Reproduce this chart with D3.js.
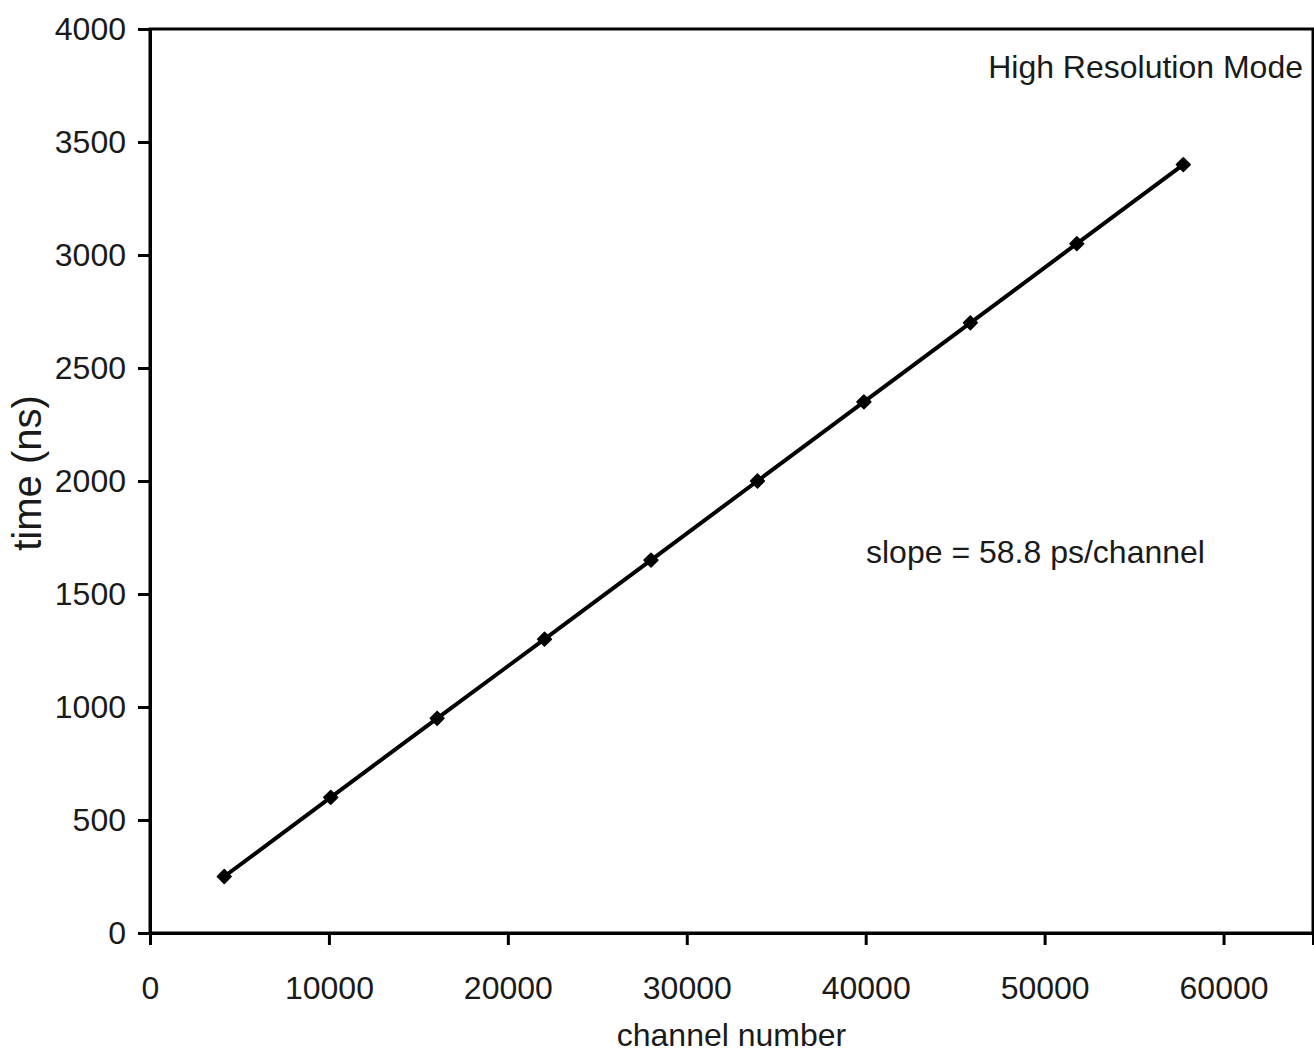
<!DOCTYPE html>
<html>
<head>
<meta charset="utf-8">
<script src="https://cdn.jsdelivr.net/npm/d3@7"></script>
<style>
  body { margin: 0; background: #fff; }
  text { font-family: "Liberation Sans", Arial, sans-serif; fill: #1a1a1a; }
</style>
</head>
<body>
<svg id="chart" width="1314" height="1055"></svg>
<script>
(function (d3) {
    'use strict';

    // values
    var channels = [4150, 10100, 16050, 22050, 28000, 33950, 39900, 45850, 51800, 57750];
    var times = [250, 600, 950, 1300, 1650, 2000, 2350, 2700, 3050, 3400];
    var xTicks = [0, 10000, 20000, 30000, 40000, 50000, 60000];
    var yTicks = [0, 500, 1000, 1500, 2000, 2500, 3000, 3500, 4000];

    var left = 150, top = 29, right = 1313, bottom = 933;

    var svg = d3.select('#chart');

    var x = d3.scaleLinear().domain([0, 65000]).range([left, right]);
    var y = d3.scaleLinear().domain([0, 4000]).range([bottom, top]);

    // frame
    svg.append('rect')
        .attr('x', left)
        .attr('y', top)
        .attr('width', right - left)
        .attr('height', bottom - top)
        .style('fill', 'none')
        .style('stroke', '#000')
        .style('stroke-width', 3);

    var xAxis = svg.append('g')
        .attr('transform', 'translate(0,' + bottom + ')')
        .call(d3.axisBottom(x).tickValues(xTicks).tickSize(12).tickPadding(31).tickFormat(d3.format('d')));

    var yAxis = svg.append('g')
        .attr('transform', 'translate(' + left + ',0)')
        .call(d3.axisLeft(y).tickValues(yTicks).tickSize(12).tickPadding(12).tickFormat(d3.format('d')));

    [xAxis, yAxis].forEach(function (g) {
        g.select('.domain').style('stroke', '#000').style('stroke-width', 3);
        g.selectAll('.tick line').style('stroke', '#000').style('stroke-width', 3);
        g.selectAll('.tick text')
            .style('font-size', '32px')
            .style('font-family', '"Liberation Sans", Arial, sans-serif')
            .style('fill', '#1a1a1a');
    });

    var pts = channels.map(function (c, i) { return [c, times[i]]; });

    var line = d3.line()
        .x(function (d) { return x(d[0]); })
        .y(function (d) { return y(d[1]); });

    svg.append('path')
        .datum(pts)
        .attr('d', line)
        .style('fill', 'none')
        .style('stroke', '#000')
        .style('stroke-width', 4);

    svg.selectAll('.pt')
        .data(pts)
        .enter()
        .append('path')
        .attr('class', 'pt')
        .attr('d', d3.symbol().type(d3.symbolSquare).size(95))
        .attr('transform', function (d) { return 'translate(' + x(d[0]) + ',' + y(d[1]) + ') rotate(45)'; })
        .style('fill', '#000')
        .style('stroke', '#000')
        .style('stroke-width', 1.5)
        .style('stroke-linejoin', 'round');

    svg.append('text')
        .attr('x', 1303)
        .attr('y', 78)
        .attr('text-anchor', 'end')
        .style('font-size', '32px')
        .text('High Resolution Mode');

    svg.append('text')
        .attr('x', 866)
        .attr('y', 563)
        .style('font-size', '32px')
        .text('slope = 58.8 ps/channel');

    svg.append('text')
        .attr('x', (left + right) / 2)
        .attr('y', 1046)
        .attr('text-anchor', 'middle')
        .style('font-size', '32px')
        .text('channel number');

    svg.append('text')
        .attr('transform', 'translate(41,473) rotate(-90)')
        .attr('text-anchor', 'middle')
        .style('font-size', '40px')
        .text('time (ns)');
})(d3);
</script>
</body>
</html>
